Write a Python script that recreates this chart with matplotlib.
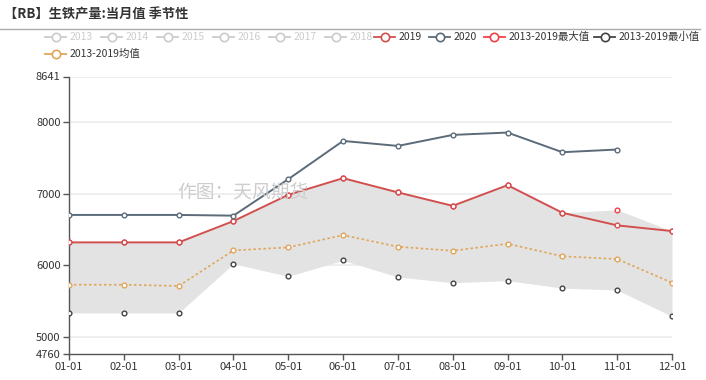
import matplotlib
matplotlib.use("Agg")
import matplotlib.pyplot as plt
from matplotlib.lines import Line2D

plt.rcParams['font.family'] = ['Noto Sans CJK SC', 'DejaVu Sans']

months = ['01-01', '02-01', '03-01', '04-01', '05-01', '06-01',
          '07-01', '08-01', '09-01', '10-01', '11-01', '12-01']

y2019 = [6321, 6321, 6321, 6619, 6986, 7219, 7020, 6832, 7121, 6735, 6559, 6479]
y2020 = [6705, 6705, 6705, 6695, 7205, 7740, 7670, 7824, 7857, 7582, 7620]
ymax = [6321, 6321, 6321, 6619, 6986, 7219, 7020, 6832, 7121, 6735, 6777, 6479]
ymin = [5334, 5334, 5334, 6022, 5846, 6070, 5837, 5757, 5785, 5682, 5654, 5288]
ymean = [5729, 5729, 5711, 6209, 6251, 6423, 6260, 6204, 6302, 6126, 6088, 5757]

yticks = [4760, 5000, 6000, 7000, 8000, 8641]

hidden_years = ['2013', '2014', '2015', '2016', '2017', '2018']

c2019 = '#d24f4f'
c2020 = '#5b6b7a'
cmax = '#f0404a'
cmin = '#444444'
cmean = '#e0a65a'

W, H = 706, 380
fig = plt.figure(figsize=(W / 100, H / 100), dpi=100)
ax = fig.add_axes([69 / W, 1 - 354 / H, (672 - 69) / W, (354 - 76.5) / H])

x = list(range(len(months)))

ax.fill_between(x, ymin, ymax, color='#e3e3e3', lw=0, zorder=1)

ax.plot(x, ymean, color=cmean, lw=1.2, ls=(0, (1.5, 1.5)), marker='o', ms=3.4,
        mfc='white', mec=cmean, mew=1, zorder=3)
ax.plot(x, ymin, color=cmin, lw=0, marker='o', ms=3.4,
        mfc='white', mec=cmin, mew=1, zorder=3)
ax.plot(x, ymax, color=cmax, lw=0, marker='o', ms=3.4,
        mfc='white', mec=cmax, mew=1, zorder=3)
ax.plot(x, y2019, color=c2019, lw=1.4, marker='o', ms=3.4,
        mfc='white', mec=c2019, mew=1, zorder=4)
ax.plot(x[:len(y2020)], y2020, color=c2020, lw=1.4, marker='o', ms=3.4,
        mfc='white', mec=c2020, mew=1, zorder=4)

ax.set_xlim(0, len(months) - 1)
ax.set_ylim(yticks[0], yticks[-1])
ax.set_xticks(x)
ax.set_xticklabels(months)
ax.set_yticks(yticks)
ax.set_yticklabels([str(v) for v in yticks])
ax.tick_params(axis='both', labelsize=8, colors='#333333', length=4, width=1, pad=2)
ax.tick_params(axis='both', color='#555555')
for v in yticks[1:]:
    ax.axhline(v, color='#eeeeee', lw=1.3, zorder=0)
for s in ['top', 'right']:
    ax.spines[s].set_visible(False)
for s in ['left', 'bottom']:
    ax.spines[s].set_color('#555555')
    ax.spines[s].set_linewidth(1)

# watermark
fig.text(243 / W, 1 - 193 / H, '作图：天风期货', fontsize=13.5, color='#cdcdcd',
         ha='center', va='center')

# title and separator
fig.text(4 / W, 1 - 14 / H, '【RB】生铁产量:当月值 季节性', fontsize=9.5,
         fontweight='bold', color='#333333', ha='left', va='center')
fig.add_artist(Line2D([0, 700 / W], [1 - 29 / H, 1 - 29 / H],
                      transform=fig.transFigure, color='#aaaaaa', lw=1))

# legend
legend_items = [(y, '#cccccc', '#cccccc', 45 + 56 * i, 37)
                for i, y in enumerate(hidden_years)]
legend_items += [('2019', c2019, '#333333', 374, 37),
                 ('2020', c2020, '#333333', 429, 37),
                 ('2013-2019最大值', cmax, '#333333', 484, 37),
                 ('2013-2019最小值', cmin, '#333333', 594, 37),
                 ('2013-2019均值', cmean, '#333333', 45, 54)]
for label, col, tcol, px, py in legend_items:
    fy = 1 - py / H
    fig.add_artist(Line2D([px / W, (px + 21) / W], [fy, fy], transform=fig.transFigure,
                          color=col, lw=1.3))
    fig.add_artist(Line2D([(px + 10.5) / W], [fy], transform=fig.transFigure,
                          marker='o', ms=6, mfc='white', mec=col, mew=1.2, lw=0))
    fig.text((px + 25) / W, fy, label, fontsize=7.5, color=tcol, ha='left', va='center')

fig.savefig('out.png', dpi=100)
